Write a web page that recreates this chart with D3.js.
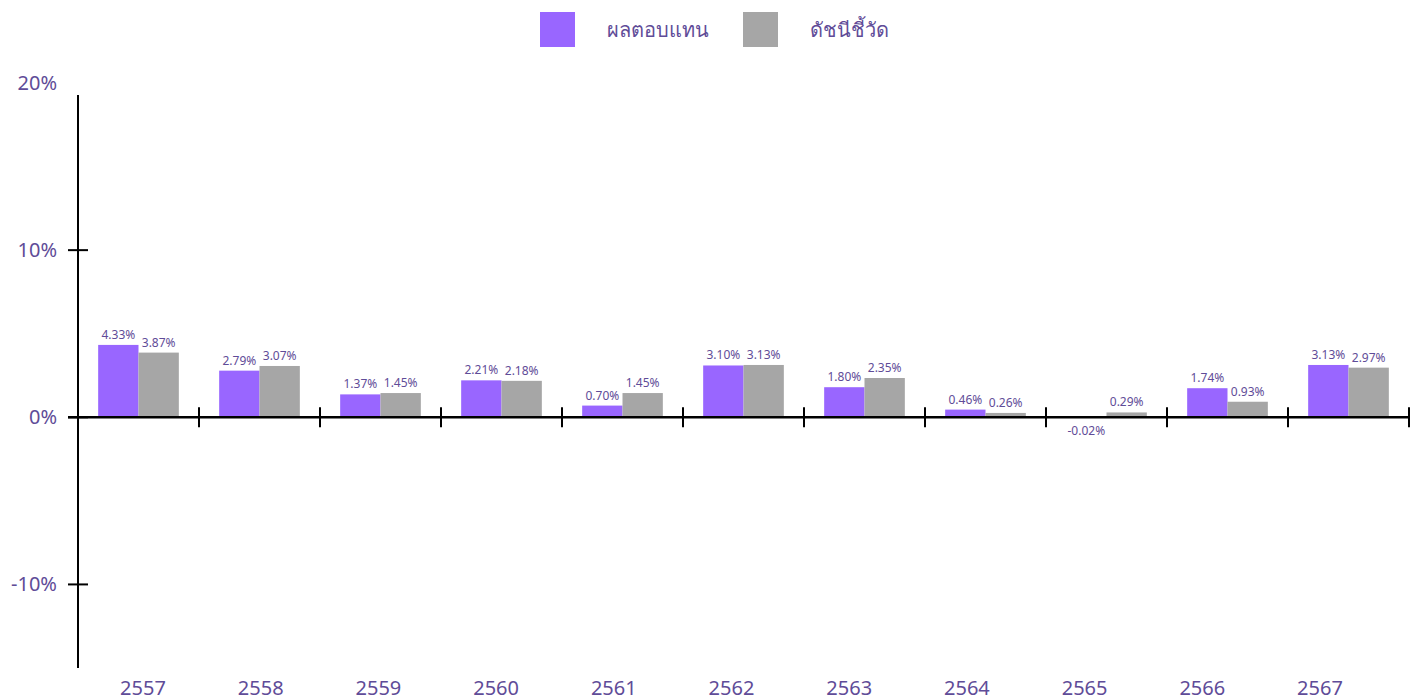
<!DOCTYPE html>
<html>
<head>
<meta charset="utf-8">
<script src="https://cdn.jsdelivr.net/npm/d3@7"></script>
<style>
  body { margin: 0; background: #fff; }
  svg text { font-family: Tahoma, "Noto Sans", "DejaVu Sans", sans-serif; fill: #5f4c98; }
</style>
</head>
<body>
<svg id="chart" width="1416" height="700"></svg>
<script>
// data
var years = ['2557', '2558', '2559', '2560', '2561', '2562', '2563', '2564', '2565', '2566', '2567'];
var fundReturn = [4.33, 2.79, 1.37, 2.21, 0.70, 3.10, 1.80, 0.46, -0.02, 1.74, 3.13];
var benchmark = [3.87, 3.07, 1.45, 2.18, 1.45, 3.13, 2.35, 0.26, 0.29, 0.93, 2.97];
var seriesNames = ['ผลตอบแทน', 'ดัชนีชี้วัด'];
var yTicks = [-10, 0, 10, 20];

var colors = ['#9966ff', '#a6a6a6'];

var svg = d3.select('#chart');

var x = d3.scaleBand().domain(years).range([78, 1409]).paddingInner(0).paddingOuter(0);
var x1 = d3.scaleBand().domain([0, 1]).range([0, x.bandwidth()]).paddingOuter(0.5).paddingInner(0);
// the category labels sit on their own, slightly narrower spread
var xLabel = d3.scalePoint().domain(years).range([143, 1320]);
var y = d3.scaleLinear().domain([-15, 20]).range([668, 83]);

// y axis line + ticks
svg.append('line')
    .attr('x1', 78).attr('x2', 78)
    .attr('y1', 95).attr('y2', 668)
    .style('stroke', '#000').style('stroke-width', 2);

yTicks.forEach(function(t) {
    if (t !== 20) {
        svg.append('line')
            .attr('x1', 68).attr('x2', 88)
            .attr('y1', y(t)).attr('y2', y(t))
            .style('stroke', '#000').style('stroke-width', 2);
    }
    svg.append('text')
        .attr('x', 57).attr('y', y(t))
        .attr('dy', '0.35em')
        .attr('text-anchor', 'end')
        .style('font-size', '20px')
        .text(t + '%');
});

// bars
var groups = svg.selectAll('g.year')
    .data(years)
    .enter().append('g')
    .attr('class', 'year')
    .attr('transform', function(d) { return 'translate(' + x(d) + ',0)'; });

[fundReturn, benchmark].forEach(function(series, si) {
    groups.append('rect')
        .attr('x', x1(si))
        .attr('width', x1.bandwidth())
        .attr('y', function(d, i) { return y(Math.max(0, series[i])); })
        .attr('height', function(d, i) { return Math.abs(y(series[i]) - y(0)); })
        .style('fill', colors[si]);

    groups.append('text')
        .attr('x', x1(si) + x1.bandwidth() / 2)
        .attr('y', function(d, i) {
            return series[i] < 0 ? y(0) + 18 : y(series[i]) - 6;
        })
        .attr('text-anchor', 'middle')
        .style('font-size', '12px')
        .text(function(d, i) { return series[i].toFixed(2) + '%'; });
});

// x axis line + ticks
svg.append('line')
    .attr('x1', 68).attr('x2', 1410)
    .attr('y1', y(0)).attr('y2', y(0))
    .style('stroke', '#000').style('stroke-width', 2.5);

years.forEach(function(d) {
    var tx = x(d) + x.bandwidth();
    svg.append('line')
        .attr('x1', tx).attr('x2', tx)
        .attr('y1', y(0) - 10).attr('y2', y(0) + 10)
        .style('stroke', '#000').style('stroke-width', 2);
    svg.append('text')
        .attr('x', xLabel(d))
        .attr('y', 688)
        .attr('dy', '0.35em')
        .attr('text-anchor', 'middle')
        .style('font-size', '20px')
        .text(d);
});

// legend
var legend = svg.append('g');
var legendX = [540, 743];
seriesNames.forEach(function(name, i) {
    legend.append('rect')
        .attr('x', legendX[i]).attr('y', 12)
        .attr('width', 35).attr('height', 35)
        .style('fill', colors[i]);
    legend.append('text')
        .attr('x', legendX[i] + 67).attr('y', 30)
        .attr('dy', '0.35em')
        .style('font-size', '20px')
        .text(name);
});
</script>
</body>
</html>
